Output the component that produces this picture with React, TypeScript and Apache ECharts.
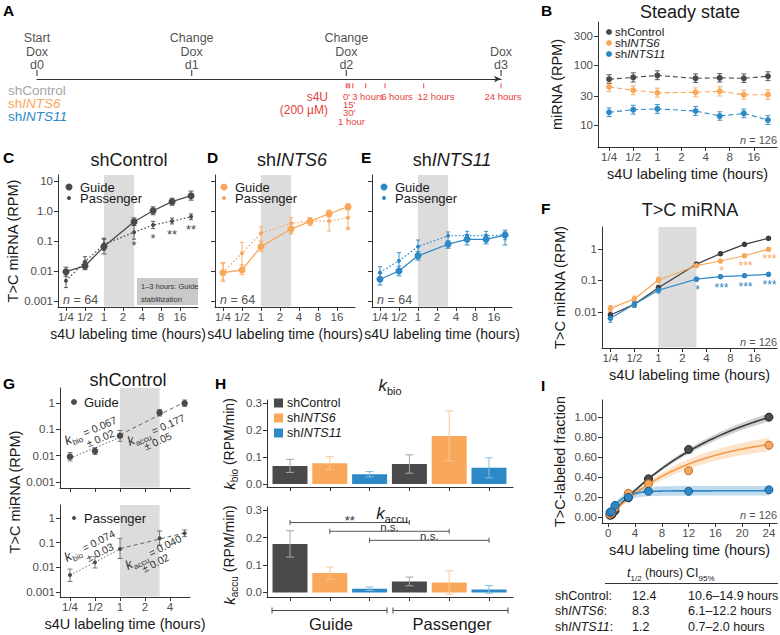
import React, { useEffect, useRef } from 'react';
import * as echarts from 'echarts';

// ---------------- Shared ----------------
const labelingHours = [0.25, 0.5, 1, 3, 6, 12, 24];
const stabilizationHours = [1, 3];
const timeTickHours = [0.25, 0.5, 1, 2, 4, 8, 16];
const timeTickLabels = ['1/4', '1/2', '1', '2', '4', '8', '16'];

// ---------------- A: timeline ----------------
const dayTicks = [0, 1, 2, 3];
const dayLabels = ['Start\nDox\nd0', 'Change\nDox\nd1', 'Change\nDox\nd2', 'Dox\nd3'];
const s4uSampleHours = [0, 0.25, 0.5, 1, 3, 6, 12, 24];

// ---------------- B: steady state (RPM) ----------------
const steadyTicks = [10, 30, 100, 300];
const steadyTickLabels = ['10', '30', '100', '300'];
const steadyControl = [58, 62, 67, 60, 61, 60, 65];
const steadyControlLo = [49, 52, 57, 51, 52, 51, 55];
const steadyControlHi = [69, 74, 80, 71, 72, 71, 77];
const steadyINTS6 = [43, 38, 34.5, 35, 36.5, 32, 32];
const steadyINTS6Lo = [36, 32, 29, 29.5, 30.5, 27, 26.5];
const steadyINTS6Hi = [51, 45, 41, 41.5, 43.5, 38, 38.5];
const steadyINTS11 = [16.3, 18, 18.5, 17.1, 14.1, 15.6, 12.1];
const steadyINTS11Lo = [13.8, 15.2, 15.6, 14.4, 12, 13.2, 10.2];
const steadyINTS11Hi = [19.3, 21.3, 21.9, 20.3, 16.6, 18.4, 14.3];

// ---------------- C-E: T>C miRNA by strand ----------------
const rpmTicks = [0.001, 0.01, 0.1, 1, 10];
const rpmTickLabels = ['0.001', '0.01', '0.1', '1.0', '10'];
const ctrlGuide = [0.0095, 0.0147, 0.065, 0.44, 1.02, 2.04, 3.24];
const ctrlGuideLo = [0.0067, 0.011, 0.037, 0.33, 0.75, 1.56, 2.3];
const ctrlGuideHi = [0.0134, 0.02, 0.115, 0.59, 1.38, 2.67, 4.6];
const ctrlPass = [0.0047, 0.0204, 0.078, 0.195, 0.34, 0.46, 0.64];
const ctrlPassLo = [0.0028, 0.014, 0.049, 0.115, 0.26, 0.37, 0.51];
const ctrlPassHi = [0.008, 0.03, 0.124, 0.33, 0.45, 0.58, 0.8];
const ctrlStars = ['', '', '', '*', '*', '**', '**'];

const ints6Guide = [0.0088, 0.0108, 0.065, 0.25, 0.45, 0.81, 1.39];
const ints6GuideLo = [0.0045, 0.0075, 0.045, 0.17, 0.33, 0.64, 1.1];
const ints6GuideHi = [0.019, 0.016, 0.1, 0.37, 0.6, 1.02, 1.75];
const ints6Pass = [0.009, 0.039, 0.18, 0.39, 0.46, 0.46, 0.6];
const ints6PassLo = [0.005, 0.01, 0.075, 0.195, 0.37, 0.215, 0.26];
const ints6PassHi = [0.018, 0.09, 0.3, 0.6, 0.55, 1.07, 1.39];
const ints6Stars = ['', '', '', '', '', '', '*'];

const ints11Guide = [0.0053, 0.01, 0.032, 0.078, 0.114, 0.114, 0.158];
const ints11GuideLo = [0.0034, 0.0069, 0.023, 0.057, 0.074, 0.08, 0.074];
const ints11GuideHi = [0.0083, 0.0145, 0.044, 0.1, 0.166, 0.16, 0.23];
const ints11Pass = [0.0089, 0.022, 0.065, 0.15, 0.15, 0.15, 0.158];
const ints11PassLo = [0.0057, 0.012, 0.039, 0.1, 0.094, 0.094, 0.11];
const ints11PassHi = [0.014, 0.041, 0.108, 0.2, 0.21, 0.21, 0.2];

// ---------------- F: T>C miRNA per knockdown ----------------
const fTicks = [0.01, 0.1, 1];
const fTickLabels = ['0.01', '0.1', '1'];
const fControl = [0.008, 0.0175, 0.059, 0.33, 0.71, 1.4, 2.19];
const fControlLo = [0.0065, 0.0145, 0.05, 0.29, 0.64, 1.28, 1.98];
const fControlHi = [0.0098, 0.021, 0.07, 0.375, 0.79, 1.53, 2.42];
const fINTS6 = [0.013, 0.026, 0.104, 0.295, 0.415, 0.61, 0.98];
const fINTS6Lo = [0.0105, 0.021, 0.085, 0.26, 0.37, 0.55, 0.88];
const fINTS6Hi = [0.016, 0.032, 0.128, 0.335, 0.465, 0.68, 1.09];
const fINTS11 = [0.0063, 0.0175, 0.049, 0.11, 0.132, 0.142, 0.157];
const fINTS11Lo = [0.0047, 0.014, 0.04, 0.097, 0.118, 0.127, 0.14];
const fINTS11Hi = [0.0085, 0.0215, 0.06, 0.125, 0.148, 0.159, 0.176];
const fINTS6Stars = ['', '', '', '', '*', '***', '***'];
const fINTS11Stars = ['', '', '', '*', '***', '***', '***'];

// ---------------- G: rate fits (shControl) ----------------
const gHours = [0.25, 0.5, 1, 3, 6];
const gTicks = [0.001, 0.01, 0.1, 1];
const gTickLabels = ['0.001', '0.01', '0.1', '1'];
const gGuide = [0.0091, 0.015, 0.057, 0.43, 0.97];
const gGuideLo = [0.0063, 0.011, 0.035, 0.32, 0.75];
const gGuideHi = [0.013, 0.02, 0.09, 0.56, 1.3];
const gPass = [0.0049, 0.016, 0.056, 0.15, 0.24];
const gPassLo = [0.0027, 0.0095, 0.023, 0.08, 0.175];
const gPassHi = [0.0085, 0.027, 0.15, 0.3, 0.33];

// ---------------- H: rates (RPM/min) ----------------
const rateTicks = [0, 0.1, 0.2, 0.3];
const rateTickLabels = ['0.0', '0.1', '0.2', '0.3'];
const kBioGuide = [0.067, 0.077, 0.036];
const kBioGuideSE = [0.024, 0.024, 0.01];
const kBioPassenger = [0.074, 0.178, 0.06];
const kBioPassengerSE = [0.034, 0.092, 0.037];
const kAccuGuide = [0.177, 0.0705, 0.0135];
const kAccuGuideSE = [0.048, 0.022, 0.0065];
const kAccuPassenger = [0.04, 0.036, 0.011];
const kAccuPassengerSE = [0.016, 0.043, 0.014];
const bracketPairs = [[0, 3], [1, 4], [2, 5]];
const bracketHeights = [0.255, 0.223, 0.19];
const bracketLabels = ['**', 'n.s.', 'n.s.'];

// ---------------- I: labeled fraction ----------------
const fractionTicks = [0, 0.2, 0.4, 0.6, 0.8, 1.0];
const fractionTickLabels = ['0.00', '0.20', '0.40', '0.60', '0.80', '1.00'];
const hourTicks = [0, 4, 8, 12, 16, 20, 24];
const hourTickLabels = ['0', '4', '8', '12', '16', '20', '24'];
const fracControl = [0.022, 0.025, 0.065, 0.195, 0.385, 0.678, 1.0];
const fracINTS6 = [0.03, 0.045, 0.095, 0.24, 0.335, 0.465, 0.72];
const fracINTS11 = [0.05, 0.06, 0.12, 0.2, 0.26, 0.26, 0.275];
const halfLives = [12.4, 8.3, 1.2];
const halfLifeCI = ['10.6\u201314.9 hours', '6.1\u201312.2 hours', '0.7\u20132.0 hours'];
const fitPlateau = [1.35, 0.84, 0.265];
const ribbonRel = [0.04, 0.09, 0.18];

// ---------------- Styling ----------------
const FONT = '"Liberation Sans", Arial, Helvetica, sans-serif';
const GRAY = '#4a4a4a';
const ORANGE = '#f9a75b';
const BLUE = '#2d88c6';
const RED = '#e8413c';
const AXIS = '#333333';
const TICK_TEXT = '#4d4d4d';
const BAND = '#dcdcdc';

const L2 = (v: number) => Math.log2(v);
const L10 = (v: number) => Math.log10(v);
const R = (size: number, extra: any = {}) => ({ fontSize: size, fontFamily: FONT, ...extra });

function nearestLabel(ticks: number[], labels: string[]) {
  return (v: number) => {
    let best = 0;
    for (let i = 1; i < ticks.length; i++) if (Math.abs(ticks[i] - v) < Math.abs(ticks[best] - v)) best = i;
    return labels[best];
  };
}

function axisCfg(dir: string, gridIndex: number, min: number, max: number, ticks: number[], labels: string[] | null, name = '', nameGap = 20, nameSize = 14.5) {
  return {
    type: 'value', gridIndex, min, max, position: dir === 'x' ? 'bottom' : 'left',
    name, nameLocation: 'middle', nameGap,
    nameTextStyle: { fontSize: nameSize, color: '#1a1a1a', fontFamily: FONT },
    axisLine: { show: true, onZero: false, lineStyle: { color: AXIS, width: 1 } },
    axisTick: { show: true, customValues: ticks, length: 4, lineStyle: { color: AXIS, width: 1 } },
    axisLabel: labels
      ? { show: true, customValues: ticks, formatter: nearestLabel(ticks, labels), color: TICK_TEXT, fontSize: 11.5, fontFamily: FONT, margin: dir === 'x' ? 4 : 5 }
      : { show: false },
    splitLine: { show: false },
    silent: true,
  };
}

const ptsLog = (hours: number[], vals: number[]) => hours.map((h, i) => [L2(h), L10(vals[i])]);
const errLog = (hours: number[], lo: number[], hi: number[]) => hours.map((h, i) => [L2(h), L10(lo[i]), L10(hi[i])]);

function errorBars(gi: number, rows: number[][], color: string | string[], cap = 2.5, lw = 1) {
  return {
    type: 'custom', xAxisIndex: gi, yAxisIndex: gi, silent: true, z: 3, data: rows,
    renderItem: (params: any, api: any) => {
      const x = api.value(0);
      const p1 = api.coord([x, api.value(1)]);
      const p2 = api.coord([x, api.value(2)]);
      const c = Array.isArray(color) ? color[params.dataIndex] : color;
      const style = { stroke: c, lineWidth: lw, fill: 'none' };
      return {
        type: 'group', children: [
          { type: 'line', shape: { x1: p1[0], y1: p1[1], x2: p2[0], y2: p2[1] }, style },
          { type: 'line', shape: { x1: p1[0] - cap, y1: p1[1], x2: p1[0] + cap, y2: p1[1] }, style },
          { type: 'line', shape: { x1: p2[0] - cap, y1: p2[1], x2: p2[0] + cap, y2: p2[1] }, style },
        ],
      };
    },
  };
}

function bandSeries(gi: number) {
  return {
    type: 'custom', xAxisIndex: gi, yAxisIndex: gi, silent: true, z: 0,
    data: [[L2(stabilizationHours[0]), L2(stabilizationHours[1])]],
    renderItem: (params: any, api: any) => {
      const cs = params.coordSys;
      const x1 = api.coord([api.value(0), 0])[0];
      const x2 = api.coord([api.value(1), 0])[0];
      return { type: 'rect', shape: { x: x1, y: cs.y, width: x2 - x1, height: cs.height - 0.5 }, style: { fill: BAND } };
    },
  };
}

function textMarks(gi: number, rows: any[], color: string, size: number, dy: number, dx = 0) {
  const kept = rows.filter((r) => r[2]);
  return {
    type: 'custom', xAxisIndex: gi, yAxisIndex: gi, silent: true, z: 6,
    data: kept.map((r) => [r[0], r[1]]),
    renderItem: (params: any, api: any) => {
      const p = api.coord([api.value(0), api.value(1)]);
      return {
        type: 'text', x: p[0] + dx, y: p[1] + dy,
        style: { text: kept[params.dataIndex][2], fill: color, fontSize: size, fontFamily: FONT, align: 'center', verticalAlign: 'middle' },
      };
    },
  };
}

function lineS(gi: number, data: number[][], color: string, size: number, type: any, width = 1.2) {
  return {
    type: 'line', xAxisIndex: gi, yAxisIndex: gi, data, symbol: 'circle', symbolSize: size,
    itemStyle: { color }, lineStyle: { color, width, type }, z: 4, silent: true, clip: false,
  };
}

function scatterS(gi: number, data: number[][], color: string, size: number, border?: string) {
  return {
    type: 'scatter', xAxisIndex: gi, yAxisIndex: gi, data, symbol: 'circle', symbolSize: size, silent: true, z: 5,
    itemStyle: { color, borderColor: border || color, borderWidth: border ? 1 : 0, opacity: 1 },
  };
}

function fitLine(hours: number[], vals: number[]) {
  const xs = hours.map(L2);
  const ys = vals.map(L10);
  const n = xs.length;
  const mx = xs.reduce((a, b) => a + b, 0) / n;
  const my = ys.reduce((a, b) => a + b, 0) / n;
  let sxy = 0, sxx = 0;
  for (let i = 0; i < n; i++) { sxy += (xs[i] - mx) * (ys[i] - my); sxx += (xs[i] - mx) ** 2; }
  const b = sxy / sxx;
  const a = my - b * mx;
  return [[xs[0], a + b * xs[0]], [xs[n - 1], a + b * xs[n - 1]]];
}

function ribbonSeries(gi: number, upper: number[][], lower: number[][], color: string) {
  return {
    type: 'custom', xAxisIndex: gi, yAxisIndex: gi, silent: true, z: 1, data: [upper[0]],
    renderItem: (params: any, api: any) => {
      const pts = upper.map((p) => api.coord(p)).concat(lower.slice().reverse().map((p) => api.coord(p)));
      return { type: 'polygon', shape: { points: pts }, style: { fill: color } };
    },
  };
}

function T(x: number, y: number, text: string, size: number, o: any = {}) {
  return {
    type: 'text', x, y, rotation: o.rot || 0, silent: true, z: 50,
    style: {
      text, fontSize: size, fontFamily: FONT, fontWeight: o.bold ? 'bold' : 'normal', fontStyle: o.italic ? 'italic' : 'normal',
      fill: o.color || '#1a1a1a', align: o.align || 'left', verticalAlign: o.va || 'middle', rich: o.rich,
    },
  };
}
const geneRich = (size: number) => ({ r: R(size), i: R(size, { fontStyle: 'italic' }) });
const gene = (g: string) => `{r|sh}{i|${g}}`;
const nRich = (size: number) => ({ i: R(size, { fontStyle: 'italic' }), r: R(size) });
const dot = (cx: number, cy: number, r: number, fill: string) => ({ type: 'circle', silent: true, z: 50, shape: { cx, cy, r }, style: { fill } });
const seg = (x1: number, y1: number, x2: number, y2: number, stroke = '#333', lineWidth = 1) => ({ type: 'line', silent: true, z: 50, shape: { x1, y1, x2, y2 }, style: { stroke, lineWidth } });

function kAnnot(x: number, y: number, deg: number, sub: string, value: string, pm: string, pmDx: number) {
  const rich = {
    k: R(13, { fontStyle: 'italic', lineHeight: 18, verticalAlign: 'middle' }),
    s: R(8, { lineHeight: 9, verticalAlign: 'bottom' }),
    v: R(10.5, { lineHeight: 18, verticalAlign: 'middle' }),
  };
  return {
    type: 'group', x, y, rotation: (deg * Math.PI) / 180, silent: true, z: 60,
    children: [
      { type: 'text', z: 60, x: 0, y: 0, style: { text: `{k|k}{s|${sub}}{v| = ${value}}`, rich, fill: '#333', align: 'left', verticalAlign: 'middle', fontSize: 10.5, fontFamily: FONT } },
      { type: 'text', z: 60, x: pmDx, y: 11, style: { text: `\u00b1 ${pm}`, fill: '#333', fontSize: 10.5, fontFamily: FONT, align: 'left', verticalAlign: 'middle' } },
    ],
  };
}

function buildOption() {
  const grids = [
    { left: 598, top: 22, width: 179, height: 125 }, // 0 B
    { left: 58, top: 175, width: 140, height: 132 }, // 1 C
    { left: 215, top: 175, width: 140, height: 132 }, // 2 D
    { left: 372, top: 175, width: 140, height: 132 }, // 3 E
    { left: 602, top: 227, width: 175, height: 121 }, // 4 F
    { left: 60, top: 388, width: 130, height: 100 }, // 5 G top
    { left: 60, top: 505, width: 130, height: 92 }, // 6 G bottom
    { left: 267, top: 400, width: 246, height: 87 }, // 7 H top
    { left: 267, top: 507, width: 246, height: 90 }, // 8 H bottom
    { left: 602, top: 400, width: 175, height: 123 }, // 9 I
    { left: 37, top: 59, width: 464, height: 40 }, // 10 A
  ].map((g) => ({ ...g, containLabel: false, outerBoundsMode: 'none', show: false }));

  const tX = timeTickHours.map(L2);
  const gX = tX.slice(0, 5);
  const xName = 's4U labeling time (hours)';
  const catIdx = [0, 1, 2, 3, 4, 5];

  const xAxis: any[] = [
    axisCfg('x', 0, -2.46, 4.96, tX, timeTickLabels, xName, 19),
    axisCfg('x', 1, -2.42, 4.95, tX, timeTickLabels, xName, 20, 14),
    axisCfg('x', 2, -2.42, 4.95, tX, timeTickLabels, xName, 20, 14),
    axisCfg('x', 3, -2.42, 4.95, tX, timeTickLabels, xName, 20, 14),
    axisCfg('x', 4, -2.35, 4.94, tX, timeTickLabels, xName, 19),
    axisCfg('x', 5, -2.4, 2.8, gX, null),
    axisCfg('x', 6, -2.4, 2.8, gX, timeTickLabels.slice(0, 5), xName, 19),
    axisCfg('x', 7, -0.578, 5.603, catIdx, null),
    axisCfg('x', 8, -0.578, 5.603, catIdx, null),
    axisCfg('x', 9, -0.94, 25.2, hourTicks, hourTickLabels, xName, 19),
    {
      type: 'value', gridIndex: 10, min: 0, max: 3, silent: true,
      axisLine: { show: true, onZero: true, symbol: ['none', 'arrow'], symbolSize: [5, 7], lineStyle: { color: '#333', width: 1.2 } },
      axisTick: { show: false }, axisLabel: { show: false }, splitLine: { show: false },
    },
  ];
  const yAxis: any[] = [
    axisCfg('y', 0, 0.633, 2.717, steadyTicks.map(L10), steadyTickLabels, 'miRNA (RPM)', 34),
    axisCfg('y', 1, -3.2, 1.2, rpmTicks.map(L10), rpmTickLabels, 'T>C miRNA (RPM)', 33),
    axisCfg('y', 2, -3.2, 1.2, rpmTicks.map(L10), null),
    axisCfg('y', 3, -3.2, 1.2, rpmTicks.map(L10), null),
    axisCfg('y', 4, -3.143, 0.698, fTicks.map(L10), fTickLabels, 'T>C miRNA (RPM)', 35),
    axisCfg('y', 5, -3.232, 0.57, gTicks.map(L10), gTickLabels),
    axisCfg('y', 6, -3.198, 0.526, gTicks.map(L10), gTickLabels),
    axisCfg('y', 7, -0.0111, 0.311, rateTicks, rateTickLabels),
    axisCfg('y', 8, -0.0167, 0.3116, rateTicks, rateTickLabels),
    axisCfg('y', 9, -0.056, 1.171, fractionTicks, fractionTickLabels, 'T>C-labeled fraction', 35),
    { type: 'value', gridIndex: 10, min: -1, max: 1, show: false },
  ];

  const series: any[] = [];
  [1, 2, 3, 4, 5, 6].forEach((gi) => series.push(bandSeries(gi)));

  // A timeline
  series.push({
    type: 'scatter', xAxisIndex: 10, yAxisIndex: 10, symbol: 'rect', symbolSize: [1.3, 6], silent: true,
    itemStyle: { color: '#333' },
    data: dayTicks.map((d, i) => ({ value: [d, 0.3], label: { formatter: dayLabels[i] } })),
    label: { show: true, position: 'top', distance: 1, offset: [0, 3], color: '#222', fontSize: 12.5, lineHeight: 13.5, fontFamily: FONT, align: 'center' },
  });
  series.push({
    type: 'scatter', xAxisIndex: 10, yAxisIndex: 10, symbol: 'rect', symbolSize: [1.2, 5], silent: true,
    itemStyle: { color: RED },
    data: s4uSampleHours.map((h) => [2 + h / 24, -0.34]),
  });

  // B
  const dash = [5, 3];
  [
    [steadyControl, steadyControlLo, steadyControlHi, GRAY],
    [steadyINTS6, steadyINTS6Lo, steadyINTS6Hi, ORANGE],
    [steadyINTS11, steadyINTS11Lo, steadyINTS11Hi, BLUE],
  ].forEach(([v, lo, hi, c]: any) => {
    series.push(errorBars(0, errLog(labelingHours, lo, hi), c, 2.5, 0.9));
    series.push(lineS(0, ptsLog(labelingHours, v), c, 6, dash, 1.1));
  });

  // C, D, E
  const dotted = [1.5, 2.2];
  [
    [1, ctrlGuide, ctrlGuideLo, ctrlGuideHi, ctrlPass, ctrlPassLo, ctrlPassHi, GRAY],
    [2, ints6Guide, ints6GuideLo, ints6GuideHi, ints6Pass, ints6PassLo, ints6PassHi, ORANGE],
    [3, ints11Guide, ints11GuideLo, ints11GuideHi, ints11Pass, ints11PassLo, ints11PassHi, BLUE],
  ].forEach(([gi, g, glo, ghi, p, plo, phi, c]: any) => {
    series.push(errorBars(gi, errLog(labelingHours, plo, phi), c, 2, 0.9));
    series.push(errorBars(gi, errLog(labelingHours, glo, ghi), c, 2.5, 0.9));
    series.push(lineS(gi, ptsLog(labelingHours, p), c, 4, dotted, 1.3));
    series.push(lineS(gi, ptsLog(labelingHours, g), c, 7, 'solid', 1.3));
  });
  series.push(textMarks(1, labelingHours.map((h, i) => [L2(h), L10(ctrlPass[i]), ctrlStars[i]]), GRAY, 13, 13));
  series.push(textMarks(2, labelingHours.map((h, i) => [L2(h), L10(ints6Pass[i]), ints6Stars[i]]), ORANGE, 13, 13));

  // F
  [
    [fControl, fControlLo, fControlHi, '#3d3d3d'],
    [fINTS6, fINTS6Lo, fINTS6Hi, ORANGE],
    [fINTS11, fINTS11Lo, fINTS11Hi, BLUE],
  ].forEach(([v, lo, hi, c]: any) => {
    series.push(errorBars(4, errLog(labelingHours, lo, hi), c, 2, 0.9));
    series.push(lineS(4, ptsLog(labelingHours, v), c, 5.5, 'solid', 1.2));
  });
  series.push(textMarks(4, labelingHours.map((h, i) => [L2(h), L10(fINTS6[i]), fINTS6Stars[i]]), ORANGE, 12, 10, 1));
  series.push(textMarks(4, labelingHours.map((h, i) => [L2(h), L10(fINTS11[i]), fINTS11Stars[i]]), BLUE, 12, 11, 1));

  // G
  const gFitStyle = (type: any) => ({ color: '#555', width: 0.9, type });
  [
    [5, gGuide, gGuideLo, gGuideHi, 6.5],
    [6, gPass, gPassLo, gPassHi, 4],
  ].forEach(([gi, v, lo, hi, size]: any) => {
    series.push(errorBars(gi, errLog(gHours, lo, hi), '#6a6a6a', 2.5, 0.9));
    series.push(scatterS(gi, ptsLog(gHours, v), GRAY, size));
    series.push({ type: 'line', xAxisIndex: gi, yAxisIndex: gi, symbol: 'none', silent: true, z: 4, data: fitLine(gHours.slice(0, 3), v.slice(0, 3)), lineStyle: gFitStyle([1.5, 2]) });
    series.push({ type: 'line', xAxisIndex: gi, yAxisIndex: gi, symbol: 'none', silent: true, z: 4, data: fitLine(gHours.slice(2), v.slice(2)), lineStyle: gFitStyle([4, 3]) });
  });

  // H
  const barColors = [GRAY, ORANGE, BLUE];
  const barErrColors = ['#a8a8a8', '#fcc793', '#86bde3'];
  [
    [7, kBioGuide, kBioGuideSE, kBioPassenger, kBioPassengerSE],
    [8, kAccuGuide, kAccuGuideSE, kAccuPassenger, kAccuPassengerSE],
  ].forEach(([gi, g, gse, p, pse]: any) => {
    const vals = [...g, ...p];
    const ses = [...gse, ...pse];
    series.push({
      type: 'bar', xAxisIndex: gi, yAxisIndex: gi, barWidth: 35, silent: true, z: 2,
      data: vals.map((v: number, i: number) => ({ value: [i, v], itemStyle: { color: barColors[i % 3] } })),
    });
    series.push(errorBars(gi, vals.map((v: number, i: number) => [i, v - ses[i], v + ses[i]]), vals.map((_: any, i: number) => barErrColors[i % 3]), 4, 1));
  });
  bracketPairs.forEach((pr, i) => {
    series.push({
      type: 'line', xAxisIndex: 8, yAxisIndex: 8, silent: true, z: 5, symbol: 'rect', symbolSize: [1, 5],
      itemStyle: { color: '#555' }, lineStyle: { color: '#555', width: 1 },
      data: [[pr[0], bracketHeights[i]], [pr[1], bracketHeights[i]]],
    });
  });
  const bracketRows = bracketPairs.map((pr, i) => [(pr[0] + pr[1]) / 2, bracketHeights[i], bracketLabels[i]]);
  series.push(textMarks(8, bracketRows.filter((r) => r[2] === '**'), '#333', 13, -2.5));
  series.push(textMarks(8, bracketRows.filter((r) => r[2] !== '**'), '#333', 11.5, -4.5));

  // I
  const curveHours = Array.from({ length: 97 }, (_, i) => i * 0.25);
  const ribbonColors = ['rgba(90,90,90,0.28)', 'rgba(249,167,91,0.32)', 'rgba(45,136,198,0.3)'];
  const lineColors = ['#3a3a3a', '#f59c4c', '#2d88c6'];
  const fillColors = ['#4d4d4d', '#f9a75b', '#2d88c6'];
  const borderColors = ['#1e1e1e', '#b06a27', '#1b5c8a'];
  const fracs = [fracControl, fracINTS6, fracINTS11];
  const curves = [0, 1, 2].map((k) => curveHours.map((t) => [t, fitPlateau[k] * (1 - Math.pow(2, -t / halfLives[k]))]));
  [0, 1, 2].forEach((k) => {
    series.push(ribbonSeries(9, curves[k].map(([t, y]) => [t, y * (1 + ribbonRel[k])]), curves[k].map(([t, y]) => [t, y * (1 - ribbonRel[k])]), ribbonColors[k]));
  });
  [0, 1, 2].forEach((k) => {
    series.push({ type: 'line', xAxisIndex: 9, yAxisIndex: 9, symbol: 'none', silent: true, z: 3, data: curves[k], lineStyle: { color: lineColors[k], width: 1.6 } });
  });
  [0, 1, 2].forEach((k) => {
    series.push(scatterS(9, labelingHours.map((t, i) => [t, fracs[k][i]]), fillColors[k], 8, borderColors[k]));
  });

  // ---------------- graphic texts ----------------
  const g: any[] = [];
  const letter = (x: number, y: number, s: string) => T(x, y, s, 15.5, { bold: true, color: '#000' });
  g.push(letter(3, 10, 'A'), letter(541, 10, 'B'), letter(3, 157, 'C'), letter(207, 157, 'D'), letter(361, 157, 'E'),
    letter(541, 208, 'F'), letter(3, 383, 'G'), letter(215, 383, 'H'), letter(541, 385, 'I'));

  // A
  g.push(T(8, 90, 'shControl', 13.5, { color: '#a6a6a6' }));
  g.push(T(8, 103, gene('INTS6'), 13.5, { color: ORANGE, rich: geneRich(13.5) }));
  g.push(T(8, 116, gene('INTS11'), 13.5, { color: BLUE, rich: geneRich(13.5) }));
  g.push(T(328, 97, 's4U', 12, { color: RED, align: 'right' }));
  g.push(T(328, 110, '(200 \u00b5M)', 12, { color: RED, align: 'right' }));
  g.push(T(343, 96.5, "0'", 9.5, { color: RED }));
  g.push(T(343, 104.7, "15'", 9.5, { color: RED }));
  g.push(T(343, 112.9, "30'", 9.5, { color: RED }));
  g.push(T(338, 121.1, '1 hour', 9.5, { color: RED }));
  g.push(T(368, 96.5, '3 hours', 9.5, { color: RED, align: 'center' }));
  g.push(T(397, 96.5, '6 hours', 9.5, { color: RED, align: 'center' }));
  g.push(T(436, 96.5, '12 hours', 9.5, { color: RED, align: 'center' }));
  g.push(T(503, 96.5, '24 hours', 9.5, { color: RED, align: 'center' }));

  // B
  g.push(T(690, 12, 'Steady state', 18, { align: 'center' }));
  g.push(dot(609, 32, 3, GRAY), dot(609, 43, 3, ORANGE), dot(609, 54, 3, BLUE));
  g.push(T(615, 32, 'shControl', 11.5));
  g.push(T(615, 43, gene('INTS6'), 11.5, { rich: geneRich(11.5) }));
  g.push(T(615, 54, gene('INTS11'), 11.5, { rich: geneRich(11.5) }));
  g.push(T(777, 140, '{i|n}{r| = 126}', 11, { align: 'right', color: '#555', rich: nRich(11) }));

  // C, D, E
  g.push(T(129, 160, 'shControl', 18, { align: 'center' }));
  g.push(T(292, 160, gene('INTS6'), 18, { align: 'center', rich: geneRich(18) }));
  g.push(T(452, 160, gene('INTS11'), 18, { align: 'center', rich: geneRich(18) }));
  [[69, GRAY], [224, ORANGE], [384, BLUE]].forEach(([x, c]: any) => {
    g.push(dot(x, 187, 3.5, c), dot(x, 198, 2, c));
    g.push(T(x + 11, 187, 'Guide', 13), T(x + 11, 198, 'Passenger', 13));
  });
  [63, 220, 377].forEach((x) => g.push(T(x, 300, '{i|n}{r| = 64}', 12.5, { color: '#555', rich: nRich(12.5) })));
  g.push({ type: 'rect', silent: true, z: 40, shape: { x: 137, y: 278, width: 61, height: 27 }, style: { fill: '#c9c9c9' } });
  g.push(T(141, 286.5, '1\u20133 hours: Guide', 7.5, { color: '#333' }));
  g.push(T(141, 299, 'stablilization', 7.5, { color: '#333' }));

  // F
  g.push(T(690, 210, 'T>C miRNA', 18, { align: 'center' }));
  g.push(T(777, 342, '{i|n}{r| = 126}', 11, { align: 'right', color: '#555', rich: nRich(11) }));

  // G
  g.push(T(128, 380, 'shControl', 18, { align: 'center' }));
  g.push(dot(74, 402, 3, GRAY), T(84, 402, 'Guide', 13));
  g.push(dot(74, 518, 2, GRAY), T(84, 518, 'Passenger', 13));
  g.push(T(15, 492, 'T>C miRNA (RPM)', 14.5, { rot: Math.PI / 2, align: 'center' }));
  g.push(kAnnot(65, 441, 23, 'bio', kBioGuide[0].toFixed(3), kBioGuideSE[0].toFixed(2), 19));
  g.push(kAnnot(128, 442, 24, 'accu', kAccuGuide[0].toFixed(3), kAccuGuideSE[0].toFixed(2), 13));
  g.push(kAnnot(65, 558, 27, 'bio', kBioPassenger[0].toFixed(3), kBioPassengerSE[0].toFixed(2), 19));
  g.push(kAnnot(126, 566, 27, 'accu', kAccuPassenger[0].toFixed(3), kAccuPassengerSE[0].toFixed(2), 13));

  // H
  const kRich = (main: number, sub: number, rest: number) => ({
    k: R(main, { fontStyle: 'italic', lineHeight: main + 6, verticalAlign: 'middle' }),
    s: R(sub, { lineHeight: sub + 1, verticalAlign: 'bottom' }),
    n: R(rest, { lineHeight: main + 6, verticalAlign: 'middle' }),
  });
  g.push(T(390, 385, '{k|k}{s|bio}', 16, { align: 'center', rich: kRich(17, 11, 14) }));
  g.push(T(392, 513, '{k|k}{s|accu}', 16, { align: 'center', rich: kRich(17, 11, 14) }));
  g.push(T(229, 444, '{k|k}{s|bio}{n| (RPM/min)}', 14, { rot: Math.PI / 2, align: 'center', rich: kRich(15, 10, 14) }));
  g.push(T(229, 555, '{k|k}{s|accu}{n| (RPM/min)}', 14, { rot: Math.PI / 2, align: 'center', rich: kRich(15, 10, 14) }));
  ['shControl', gene('INTS6'), gene('INTS11')].forEach((s, i) => {
    const y = 403 + i * 15;
    g.push({ type: 'rect', silent: true, z: 50, shape: { x: 274, y: y - 4.5, width: 9, height: 9 }, style: { fill: barColors[i] } });
    g.push(T(287, y, s, 12.5, { rich: geneRich(12.5) }));
  });
  [[272, 387, 331, 'Guide'], [393, 508, 452, 'Passenger']].forEach(([x1, x2, cx, s]: any) => {
    g.push(seg(x1, 610.5, x2, 610.5, '#444'), seg(x1, 607.5, x1, 613.5, '#444'), seg(x2, 607.5, x2, 613.5, '#444'));
    g.push(T(cx, 624, s, 16.5, { align: 'center' }));
  });

  // I
  g.push(T(777, 515, '{i|n}{r| = 126}', 11, { align: 'right', color: '#555', rich: nRich(11) }));
  g.push(T(627, 573, '{k|t}{s|1/2}{n| (hours)}', 12, { rich: { k: R(12.5, { fontStyle: 'italic', lineHeight: 18, verticalAlign: 'middle' }), s: R(8, { lineHeight: 9, verticalAlign: 'bottom' }), n: R(12, { lineHeight: 18, verticalAlign: 'middle' }) } }));
  g.push(T(686, 573, '{k|CI}{s|95%}', 12, { rich: { k: R(12.5, { lineHeight: 18, verticalAlign: 'middle' }), s: R(8, { lineHeight: 9, verticalAlign: 'bottom' }) } }));
  g.push(seg(605, 583.5, 778, 583.5, '#333'));
  const rowNames = ['shControl:', gene('INTS6') + '{r|:}', gene('INTS11') + '{r|:}'];
  [596, 611, 626.5].forEach((y, i) => {
    g.push(T(555, y, rowNames[i], 12.5, { rich: geneRich(12.5) }));
    g.push(T(632, y, halfLives[i].toFixed(1), 12.5));
    g.push(T(688, y, halfLifeCI[i], 12.5));
  });

  return {
    animation: false,
    textStyle: { fontFamily: FONT },
    grid: grids,
    xAxis,
    yAxis,
    series,
    graphic: { elements: g },
  };
}

export default function App() {
  const ref = useRef<HTMLDivElement>(null);
  useEffect(() => {
    document.body.style.margin = '0';
    const chart = echarts.init(ref.current as HTMLDivElement, null, { renderer: 'svg' });
    chart.setOption(buildOption() as any);
    return () => chart.dispose();
  }, []);
  return <div ref={ref} style={{ width: 780, height: 635, background: '#fff' }} />;
}
